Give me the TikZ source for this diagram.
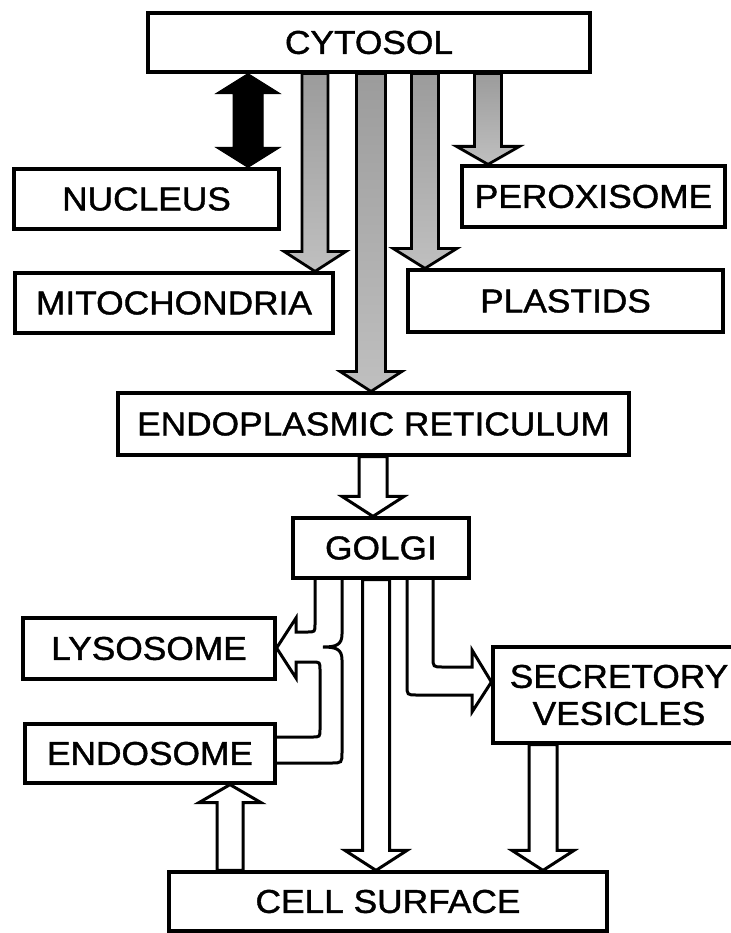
\documentclass[tikz,border=0pt]{standalone}
\usepackage{fontspec}
\setmainfont{Liberation Sans}[FakeStretch=1.07,FakeBold=1.2]
\usetikzlibrary{calc,backgrounds}
\newcommand\vblock[6]{\path[#1] let \p1=#2, \p2=#3 in (\x1-#4,\y1) -- (\x1-#4,\y2+#6) -- (\x1-#5,\y2+#6) -- (\x1,\y2) -- (\x1+#5,\y2+#6) -- (\x1+#4,\y2+#6) -- (\x1+#4,\y1) -- cycle;}
\begin{document}
\begin{tikzpicture}[x=1pt,y=-1pt,
  box/.style={draw, line width=3.2pt, fill=white, inner sep=0pt, font=\fontsize{33}{37}\selectfont, align=center},
  greyarrow/.style={draw, line width=2.8pt, top color=gray!78, bottom color=gray!50, line join=miter},
  whitearrow/.style={draw, line width=3pt, fill=white, line join=miter},
  blackarrow/.style={fill=black, draw=black, line width=1pt},
  arr/.style={line width=3pt, line join=miter}]
\useasboundingbox (0,0) rectangle (730,933);

\node[box, minimum width=442pt, minimum height=59pt] (cyt) at (369,42.5) {CYTOSOL};
\node[box, minimum width=265pt, minimum height=60pt] (nuc) at (146.5,199) {NUCLEUS};
\node[box, minimum width=318pt, minimum height=60pt] (mito) at (174,303) {MITOCHONDRIA};
\node[box, minimum width=263pt, minimum height=61pt] (perox) at (593.5,196.5) {PEROXISOME};
\node[box, minimum width=315pt, minimum height=62pt] (plast) at (565.5,301) {PLASTIDS};
\node[box, minimum width=511pt, minimum height=62pt] (er) at (373.5,424) {ENDOPLASMIC RETICULUM};
\node[box, minimum width=176pt, minimum height=60pt] (golgi) at (381,548) {GOLGI};
\node[box, minimum width=252pt, minimum height=61pt] (lys) at (149,648.5) {LYSOSOME};
\node[box, minimum width=250pt, minimum height=59pt] (endo) at (150,753.5) {ENDOSOME};
\node[box, minimum width=252pt, minimum height=96pt] (sec) at (619,695) {SECRETORY\\VESICLES};
\node[box, minimum width=438pt, minimum height=59pt] (cell) at (388,901.5) {CELL SURFACE};

\begin{scope}[on background layer]
\fill[white] (0,0) rectangle (730,933);
\path[blackarrow] let \p1=(cyt.south -| 248,0), \p2=(nuc.north -| 248,0) in
  (\x1,\y1) -- (\x1+32pt,\y1-20pt) -- (\x1+15pt,\y1-20pt) -- (\x1+15pt,\y2+20pt) -- (\x1+32pt,\y2+20pt) -- (\x1,\y2)
  -- (\x1-32pt,\y2+20pt) -- (\x1-15pt,\y2+20pt) -- (\x1-15pt,\y1-20pt) -- (\x1-32pt,\y1-20pt) -- cycle;
\vblock{greyarrow}{(cyt.south -| 315,0)}{(mito.north -| 315,0)}{13pt}{31pt}{20pt}
\vblock{greyarrow}{(cyt.south -| 371,0)}{(er.north -| 371,0)}{14.5pt}{31pt}{20pt}
\vblock{greyarrow}{(cyt.south -| 425,0)}{(plast.north -| 425,0)}{13.5pt}{32pt}{20pt}
\vblock{greyarrow}{(cyt.south -| 488,0)}{(perox.north -| 488,0)}{13.5pt}{31.5pt}{18pt}
\vblock{whitearrow}{(er.south -| 373,0)}{(golgi.north -| 373,0)}{14pt}{31pt}{20pt}
\vblock{whitearrow}{(golgi.south -| 376,0)}{(cell.north -| 376,0)}{13.5pt}{31pt}{20pt}
\vblock{whitearrow}{(sec.south -| 543,0)}{(cell.north -| 543,0)}{14pt}{31pt}{20pt}
\vblock{whitearrow}{(cell.north -| 230,0)}{(endo.south -| 230,0)}{13pt}{31pt}{-18pt}
\end{scope}

% Golgi -> Lysosome, Endosome -> Lysosome
\draw[arr] (golgi.south -| 315,0) -- (315,624) .. controls (315,632) .. (307,632) -- (296,632) -- (296,618)
  -- (lys.east |- 0,648) -- (296,678) -- (296,662) -- (312,662) .. controls (320,662) .. (320,670)
  -- (320,729) .. controls (320,737) .. (312,737) -- (endo.east |- 0,737);
\draw[arr] (golgi.south -| 342,0) -- (342,634) .. controls (342,645) and (336,647) .. (323,647)
  .. controls (336,647) and (342,649) .. (342,660) -- (342,752) .. controls (342,763) .. (331,763)
  -- (endo.east |- 0,763);
% Golgi -> Secretory vesicles
\draw[arr] (golgi.south -| 407,0) -- (407,685) .. controls (407,695) .. (417,695) -- (472,695) -- (472,712)
  -- (sec.west |- 0,682) -- (472,650) -- (472,667) -- (443,667) .. controls (433,667) .. (433,657)
  -- (golgi.south -| 433,0);
\end{tikzpicture}
\end{document}
